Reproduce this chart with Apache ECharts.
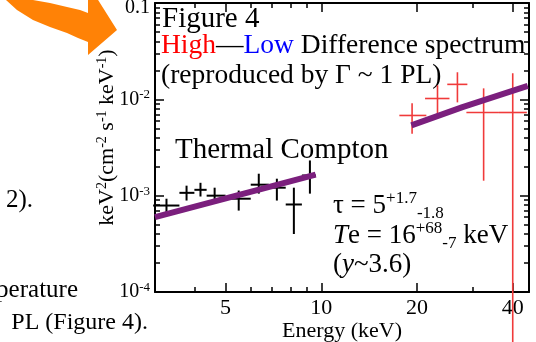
<!DOCTYPE html>
<html>
<head>
<meta charset="utf-8">
<script src="https://cdn.jsdelivr.net/npm/echarts@6/dist/echarts.min.js"></script>
<style>
  html, body { margin: 0; padding: 0; background: #fff; }
  #chart { width: 536px; height: 342px; }
</style>
</head>
<body>
<div id="chart"></div>
<script>
// Thermal Compton (low energy) points, keV and keV^2 flux
const blackE    = [3.26, 3.77, 4.17, 4.62, 5.5, 6.36, 7.25, 8.2, 9.21]
const blackElo  = [2.96, 3.58, 3.99, 4.36, 5.0, 6.0, 6.84, 7.73, 8.69]
const blackEhi  = [3.58, 3.99, 4.36, 5.0, 6.0, 6.84, 7.73, 8.69, 9.62]
const blackF    = [7.9e-4, 1.07e-3, 1.15e-3, 1.0e-3, 9.3e-4, 1.30e-3, 1.21e-3, 8.1e-4, 1.62e-3]
const blackFlo  = [6.65e-4, 8.9e-4, 9.8e-4, 8.45e-4, 7.0e-4, 1.05e-3, 8.9e-4, 4.0e-4, 1.05e-3]
const blackFhi  = [9.3e-4, 1.27e-3, 1.36e-3, 1.21e-3, 1.13e-3, 1.69e-3, 1.50e-3, 1.21e-3, 2.32e-3]

// high energy points
const redE   = [19.3, 23.2, 26.8, 32.4, 40.0]
const redElo = [17.6, 21.2, 24.9, 28.6, 36.2]
const redEhi = [21.4, 25.3, 28.8, 36.2, 44.3]
const redF   = [6.8e-3, 1.02e-2, 1.43e-2, 7.3e-3, 7.3e-3]
const redFlo = [4.4e-3, 6.8e-3, 9.3e-3, 1.43e-3, 2.5e-5]
const redFhi = [9.1e-3, 1.40e-2, 1.91e-2, 1.30e-2, 1.87e-2]

// model curves
const lowModelE  = [3.0, 9.6]
const lowModelF  = [6.0e-4, 1.65e-3]
const highModelE = [19.2, 27.8, 44.6]
const highModelF = [5.36e-3, 8.3e-3, 1.38e-2]

// ticks
const xMajor = [5, 10, 20, 40]
const xMinor = [3, 4, 6, 7, 8, 9, 30]
const yMajor = [1e-4, 1e-3, 1e-2, 0.1]
const yMinor = []
for (let d = -4; d <= -2; d++) {
  for (let k = 2; k <= 9; k++) yMinor.push(k * Math.pow(10, d))
}

const lg = Math.log10
const FONT = 'Liberation Serif'

let chart = echarts.init(document.getElementById('chart'))

function crosses(E, Elo, Ehi, F, Flo, Fhi) {
  return E.map((e, i) => [lg(e), lg(F[i]), lg(Elo[i]), lg(Ehi[i]), lg(Flo[i]), lg(Fhi[i])])
}

function crossRender(color, width) {
  return function (params, api) {
    const l = api.coord([api.value(2), api.value(1)])
    const r = api.coord([api.value(3), api.value(1)])
    const b = api.coord([api.value(0), api.value(4)])
    const t = api.coord([api.value(0), api.value(5)])
    const st = { stroke: color, lineWidth: width }
    return {
      type: 'group',
      children: [
        { type: 'line', shape: { x1: l[0], y1: l[1], x2: r[0], y2: r[1] }, style: st },
        { type: 'line', shape: { x1: b[0], y1: b[1], x2: t[0], y2: t[1] }, style: st }
      ]
    }
  }
}

function xAxisDef(pos, values, len, showLine, showLabel) {
  return {
    type: 'value', position: pos, min: lg(3), max: lg(45),
    axisLine: { show: showLine, onZero: false, lineStyle: { color: '#000', width: 2 } },
    axisTick: { inside: true, length: len, customValues: values.map(lg), lineStyle: { color: '#000', width: 1.5 } },
    axisLabel: {
      show: showLabel, customValues: values.map(lg), margin: 5,
      fontFamily: FONT, fontSize: 22, color: '#000',
      formatter: v => String(Math.round(Math.pow(10, v)))
    },
    splitLine: { show: false }
  }
}

function yAxisDef(pos, values, len, showLine, showLabel) {
  return {
    type: 'value', position: pos, min: -4, max: -1,
    axisLine: { show: showLine, onZero: false, lineStyle: { color: '#000', width: 2 } },
    axisTick: { inside: true, length: len, customValues: values.map(lg), lineStyle: { color: '#000', width: 1.5 } },
    axisLabel: {
      show: showLabel, customValues: values.map(lg), margin: 5, color: '#000',
      formatter: v => {
        const n = Math.round(v)
        return n === -1 ? '{t|0.1}' : '{b|10}{s|' + n + '}'
      },
      rich: {
        t: { fontFamily: FONT, fontSize: 20, color: '#000', lineHeight: 22, padding: [10, 0, 0, 0] },
        b: { fontFamily: FONT, fontSize: 20, color: '#000', lineHeight: 22 },
        s: { fontFamily: FONT, fontSize: 13, color: '#000', verticalAlign: 'top', lineHeight: 14 }
      }
    },
    splitLine: { show: false }
  }
}

const xs = [
  xAxisDef('bottom', xMajor, 9, true, true),
  xAxisDef('bottom', xMinor, 5, false, false),
  xAxisDef('top', xMajor, 9, true, false),
  xAxisDef('top', xMinor, 5, false, false)
]
xs[0].name = 'Energy (keV)'
xs[0].nameLocation = 'middle'
xs[0].nameGap = 28
xs[0].nameMoveOverlap = false
xs[0].nameTextStyle = { fontFamily: FONT, fontSize: 22, color: '#000' }

const ys = [
  yAxisDef('left', yMajor, 9, true, true),
  yAxisDef('left', yMinor, 5, false, false),
  yAxisDef('right', yMajor, 9, true, false),
  yAxisDef('right', yMinor, 5, false, false)
]
ys[0].name = '{n|keV}{s|2}{n|(cm}{s|-2}{n| s}{s|-1}{n| keV}{s|-1}{n|)}'
ys[0].nameLocation = 'middle'
ys[0].nameGap = 36
ys[0].nameMoveOverlap = false
ys[0].nameTextStyle = {
  padding: [0, 0, 0, 20],
  rich: {
    n: { fontFamily: FONT, fontSize: 22, color: '#000', lineHeight: 24 },
    s: { fontFamily: FONT, fontSize: 14, color: '#000', verticalAlign: 'top', lineHeight: 14 }
  }
}

const txt = (x, y, text, size, align, rich) => ({
  type: 'text', x: x, y: y, silent: true,
  style: {
    text: text, fontFamily: FONT, fontSize: size, fill: '#000',
    align: align || 'left', verticalAlign: 'middle', rich: rich
  }
})

const mathRich = {
  n: { fontFamily: FONT, fontSize: 27, fill: '#000', lineHeight: 32 },
  i: { fontFamily: FONT, fontSize: 27, fontStyle: 'italic', fill: '#000', lineHeight: 32 },
  sp: { fontFamily: FONT, fontSize: 17, fill: '#000', verticalAlign: 'top', lineHeight: 17 },
  sb: { fontFamily: FONT, fontSize: 17, fill: '#000', verticalAlign: 'bottom', lineHeight: 15 }
}

let option = {
  animation: false,
  backgroundColor: '#fff',
  grid: { left: 155, right: 7, top: 3, bottom: 50, outerBoundsMode: 'none', containLabel: false },
  xAxis: xs,
  yAxis: ys,
  graphic: [
    {
      type: 'polygon', silent: true,
      shape: { points: [[33, 0], [50, 3], [67, 7], [80, 10], [88, 13], [88, -16], [117, 30], [88, 55],
        [88, 42], [78, 38], [67, 33], [50, 27], [33, 20], [17, 10], [6, 0]] },
      style: { fill: '#ff8206' }
    },
    txt(33, 200, '2).', 25, 'right'),
    txt(78, 290, 'perature', 25, 'right'),
    txt(148, 323, 'PL (Figure 4).', 24, 'right'),
    txt(162, 19, 'Figure 4', 29),
    txt(161, 46, '{r|High}{k|—}{b|Low}{k| Difference spectrum}', 27, 'left', {
      r: { fontFamily: FONT, fontSize: 27.5, fill: '#ff0000' },
      k: { fontFamily: FONT, fontSize: 27.5, fill: '#000' },
      b: { fontFamily: FONT, fontSize: 27.5, fill: '#0000ff' }
    }),
    txt(161, 76, '(reproduced by Γ ~ 1 PL)', 27.5),
    txt(175, 150, 'Thermal Compton', 29),
    txt(333, 206, '{n|τ = 5}{sp|+1.7}{sb|-1.8}', 27, 'left', mathRich),
    txt(333, 236, '{i|T}{n|e = 16}{sp|+68}{sb|-7}{n| keV}', 27, 'left', mathRich),
    txt(333, 265, '{n|(}{i|y}{n|~3.6)}', 27, 'left', mathRich)
  ],
  series: [
    {
      type: 'line', xAxisIndex: 0, yAxisIndex: 0, symbol: 'none', z: 3,
      data: lowModelE.map((e, i) => [lg(e), lg(lowModelF[i])]),
      lineStyle: { color: '#7b1f7d', width: 6 }
    },
    {
      type: 'line', xAxisIndex: 0, yAxisIndex: 0, symbol: 'none', z: 3,
      data: highModelE.map((e, i) => [lg(e), lg(highModelF[i])]),
      lineStyle: { color: '#7b1f7d', width: 6 }
    },
    {
      type: 'custom', xAxisIndex: 0, yAxisIndex: 0, z: 2,
      encode: { x: [0, 2, 3], y: [1, 4, 5] },
      renderItem: crossRender('#000', 2),
      data: crosses(blackE, blackElo, blackEhi, blackF, blackFlo, blackFhi)
    },
    {
      type: 'custom', xAxisIndex: 0, yAxisIndex: 0, z: 2, clip: false,
      encode: { x: [0, 2, 3], y: [1, 4, 5] },
      renderItem: crossRender('#f03a3a', 1.6),
      data: crosses(redE, redElo, redEhi, redF, redFlo, redFhi)
    }
  ]
}
chart.setOption(option)
</script>
</body>
</html>
